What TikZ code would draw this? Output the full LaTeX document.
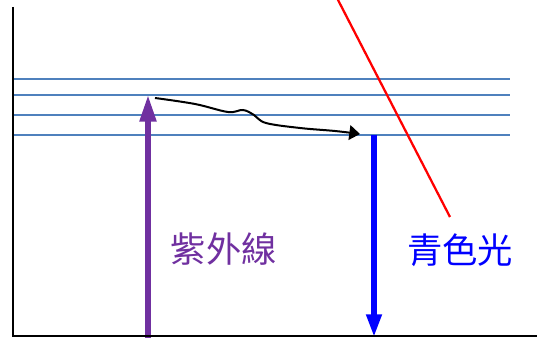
\documentclass[tikz,border=0pt]{standalone}
\usepackage{fontspec}
\newfontfamily\cjk{Noto Sans CJK TC}
\usetikzlibrary{arrows.meta}
\definecolor{levelblue}{RGB}{79,129,189}
\definecolor{uvpurple}{RGB}{112,48,160}
\tikzset{
  axis/.style={line width=2pt,black},
  level/.style={line width=1.7pt,levelblue},
  uvarrow/.style={line width=4pt,uvpurple,-{Triangle[length=20pt,width=12pt]}},
  bluearrow/.style={line width=4pt,blue,-{Triangle[length=17pt,width=11pt]}},
  relax/.style={line width=1.5pt,black,-{Triangle[length=8pt,width=11pt]}},
  lbl/.style={font=\cjk\fontsize{26.5}{30}\selectfont,inner sep=0pt}
}
\begin{document}
\begin{tikzpicture}[x=0.75pt,y=-0.75pt]
\useasboundingbox (0,0) rectangle (537,338);
% energy levels
\foreach \yy/\nm in {79/l1,95/l2,115/l3,135/l4}{
  \coordinate (\nm a) at (12,\yy);
  \coordinate (\nm b) at (510,\yy);
  \draw[level] (\nm a) -- (\nm b);
}
% red line
\coordinate (r1) at (337,-2);
\coordinate (r2) at (450,217);
\draw[red,line width=1.7pt] (r1) -- (r2);
% arrows
\coordinate (uvs) at (148,338);
\coordinate (uve) at (148,95);
\draw[uvarrow] (uvs) -- (uve);
\coordinate (bs) at (374,135);
\coordinate (be) at (374,337);
\draw[bluearrow] (bs) -- (be);
\draw[relax] plot[smooth,tension=0.6] coordinates {(155,98) (195,104) (228,112) (243,110) (254,115) (266,123) (300,128) (335,131) (360,134)};
% axes
\coordinate (o) at (13,336);
\coordinate (yt) at (13,7);
\coordinate (xe) at (537,336);
\draw[axis] (yt) -- (o) -- (xe);
% labels
\node[lbl,text=uvpurple] (uv) at (224,249) {紫外線};
\node[lbl,text=blue] (bl) at (460,250) {青色光};
\end{tikzpicture}
\end{document}
